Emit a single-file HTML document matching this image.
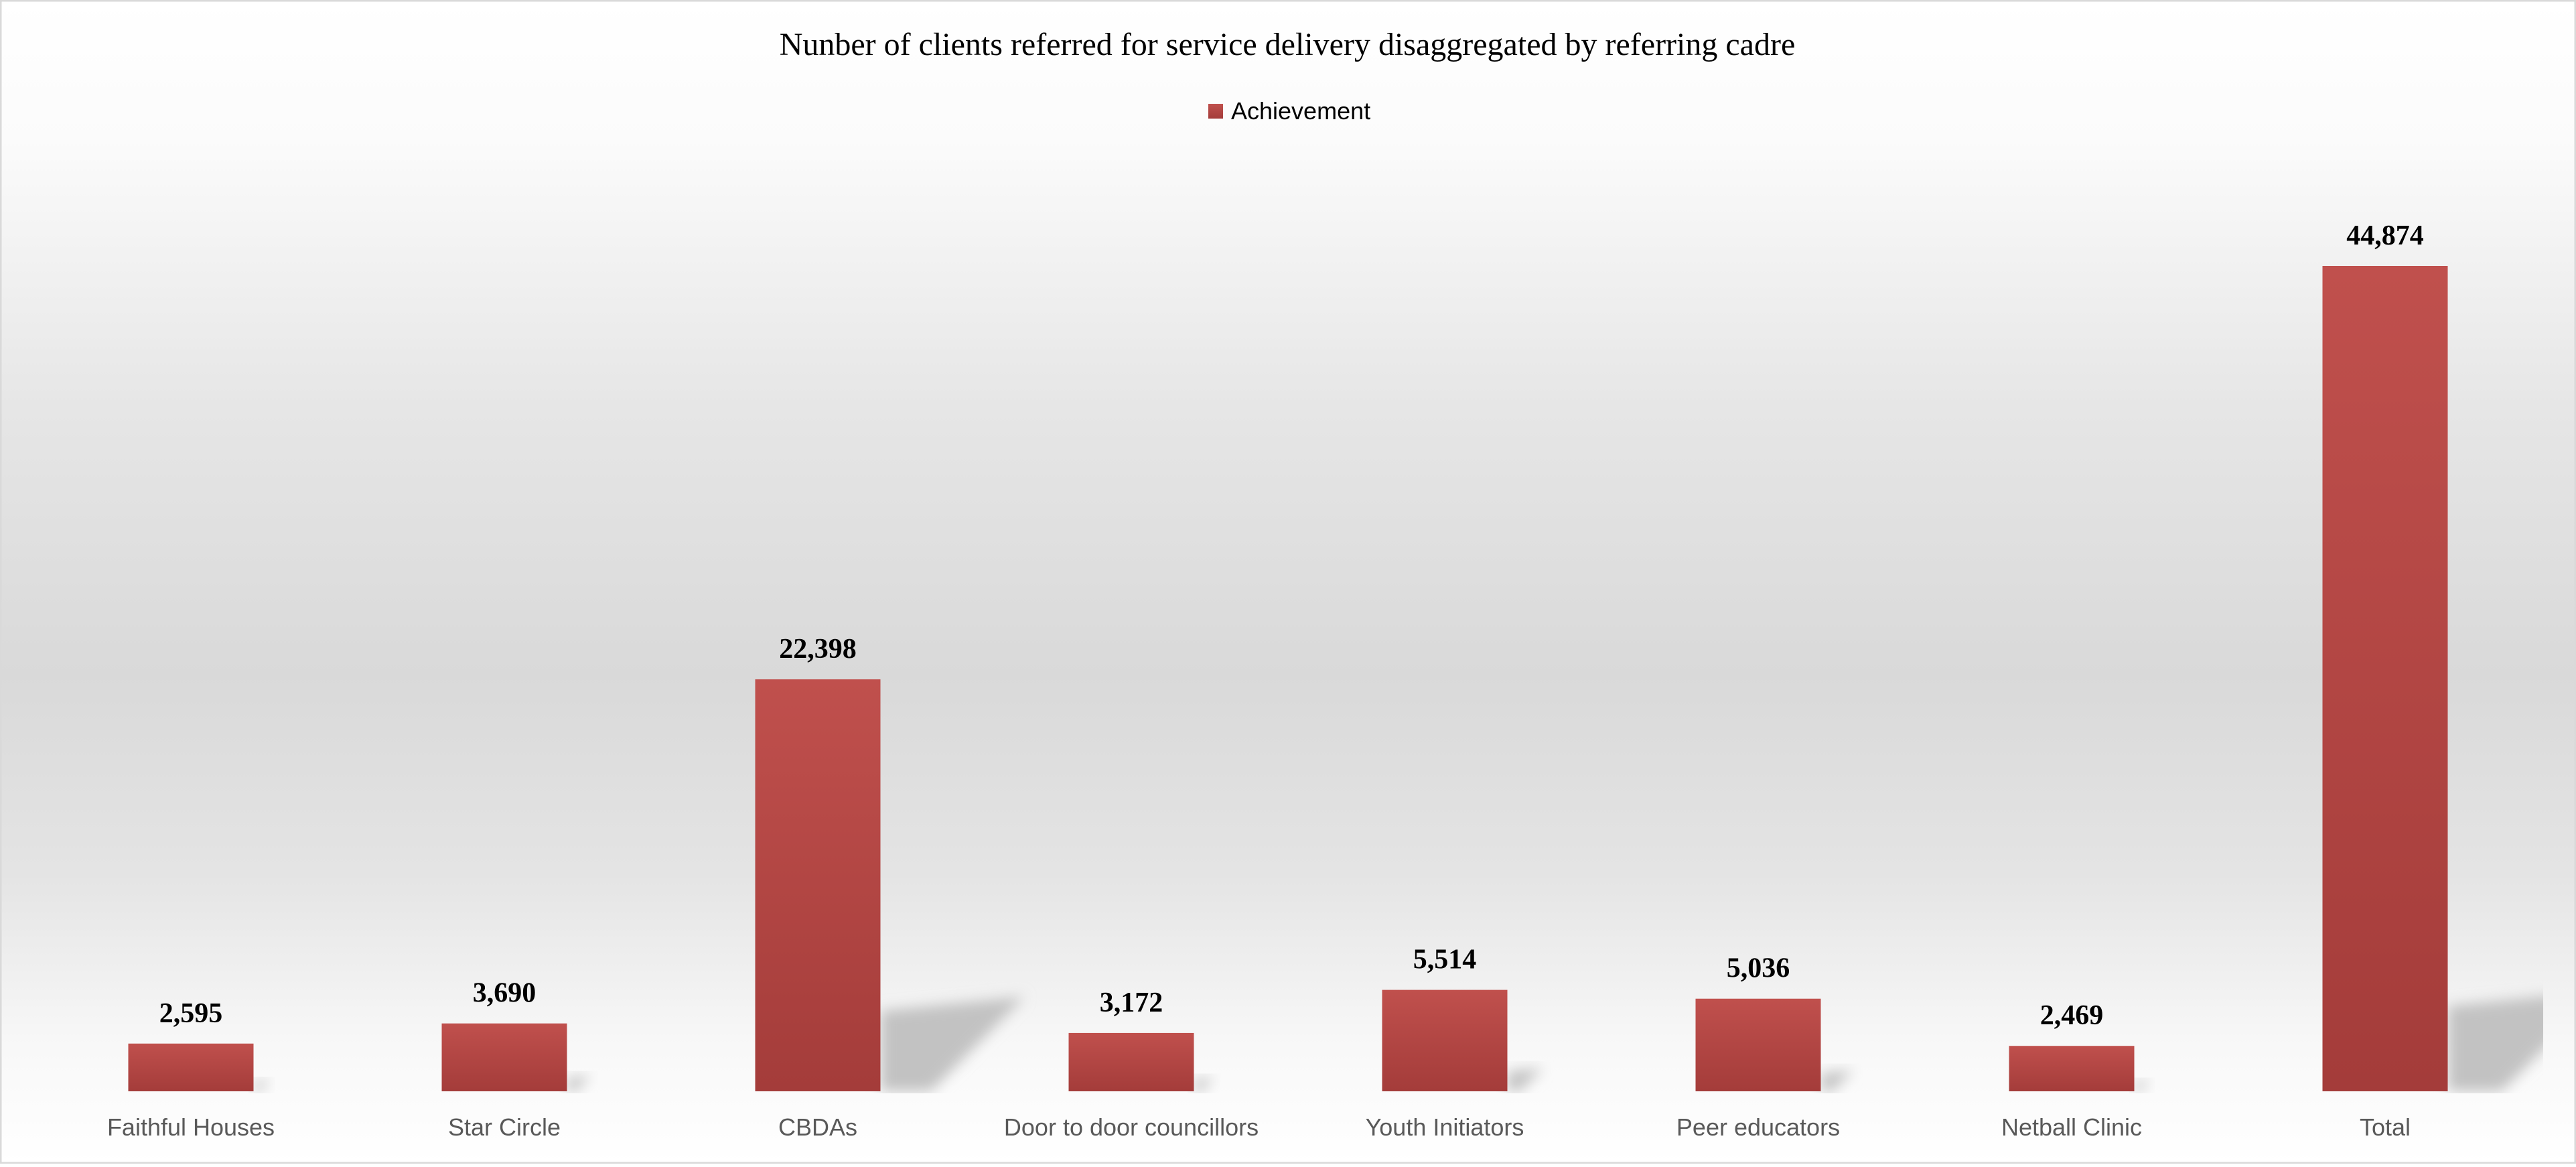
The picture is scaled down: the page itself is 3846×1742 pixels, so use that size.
<!DOCTYPE html>
<html><head><meta charset="utf-8"><style>
html,body{margin:0;padding:0;}
body{width:3846px;height:1737px;overflow:hidden;}
</style></head><body>
<svg id="chart" width="3846" height="1737" viewBox="0 0 3846 1737" xmlns="http://www.w3.org/2000/svg">
<defs>
<linearGradient id="bg" x1="0" y1="0" x2="0" y2="1">
<stop offset="0" stop-color="#ffffff"/>
<stop offset="0.12" stop-color="#fbfbfb"/>
<stop offset="0.35" stop-color="#e6e6e6"/>
<stop offset="0.58" stop-color="#d9d9d9"/>
<stop offset="0.75" stop-color="#e4e4e4"/>
<stop offset="0.9" stop-color="#f8f8f8"/>
<stop offset="1" stop-color="#ffffff"/>
</linearGradient>
<linearGradient id="barg" x1="0" y1="0" x2="0" y2="1">
<stop offset="0" stop-color="#c0504d"/>
<stop offset="1" stop-color="#a43c3a"/>
</linearGradient>
<filter id="blur" x="-30%" y="-30%" width="160%" height="160%"><feGaussianBlur stdDeviation="10"/></filter>
<clipPath id="plotclip"><rect x="0" y="0" width="3797" height="1632"/></clipPath>
</defs>
<rect x="1" y="1" width="3844" height="1735" fill="url(#bg)" stroke="#d9d9d9" stroke-width="3"/>
<text x="1922" y="82" text-anchor="middle" font-family="Liberation Serif, serif" font-size="48" fill="#000">Nunber of clients referred for service delivery disaggregated by referring cadre</text>
<g>
<rect x="1804" y="155" width="22" height="22" fill="url(#barg)"/>
<text x="1838" y="178" font-family="Liberation Sans, sans-serif" font-size="36" fill="#000">Achievement</text>
</g>
<g id="shadows" clip-path="url(#plotclip)"></g>
<g id="bars"></g>
<g id="labels"></g>
</svg>
<script>
const categories = ["Faithful Houses","Star Circle","CBDAs","Door to door councillors","Youth Initiators","Peer educators","Netball Clinic","Total"];
const values = [2595,3690,22398,3172,5514,5036,2469,44874];
const valueLabels = ["2,595","3,690","22,398","3,172","5,514","5,036","2,469","44,874"];

const NS="http://www.w3.org/2000/svg";
const plotLeft=51, plotRight=3795, baseY=1629, yMax=44874, yPix=1232;
const band=(plotRight-plotLeft)/categories.length;
const barW=187;
function xCenter(i){return plotLeft+band*(i+0.5);}
function yScale(v){return baseY - v/yMax*yPix;}
const gb=document.getElementById('bars'), gl=document.getElementById('labels'), gs=document.getElementById('shadows');
categories.forEach((c,i)=>{
  const cx=xCenter(i), x=cx-barW/2, y=yScale(values[i]), h=baseY-y;
  const R=x+barW, sh=Math.min(h*0.23,150), ext=Math.min(h*0.35,230);
  const p=document.createElementNS(NS,'polygon');
  
  
  p.setAttribute('points',`${R},${baseY} ${R},${baseY-sh*0.85} ${R+ext},${baseY-sh} ${R+ext*0.35},${baseY}`);
  p.setAttribute('fill','#c2c2c2');
  p.setAttribute('filter','url(#blur)');
  gs.appendChild(p);
  const r=document.createElementNS(NS,'rect');
  
  
  r.setAttribute('x',x);r.setAttribute('y',y);r.setAttribute('width',barW);r.setAttribute('height',h);
  r.setAttribute('fill','url(#barg)');
  gb.appendChild(r);
  const t=document.createElementNS(NS,'text');
  
  
  t.setAttribute('x',cx);t.setAttribute('y',y-32);
  t.setAttribute('text-anchor','middle');
  t.setAttribute('font-family','Liberation Serif, serif');
  t.setAttribute('font-weight','bold');t.setAttribute('font-size','42');t.setAttribute('fill','#000');
  t.textContent=valueLabels[i];
  gl.appendChild(t);
  const ct=document.createElementNS(NS,'text');
  
  
  ct.setAttribute('x',cx);ct.setAttribute('y',1695);
  ct.setAttribute('text-anchor','middle');
  ct.setAttribute('font-family','Liberation Sans, sans-serif');
  ct.setAttribute('font-size','36');ct.setAttribute('fill','#595959');
  ct.textContent=c;
  gl.appendChild(ct);
});
</script>
</body></html>
